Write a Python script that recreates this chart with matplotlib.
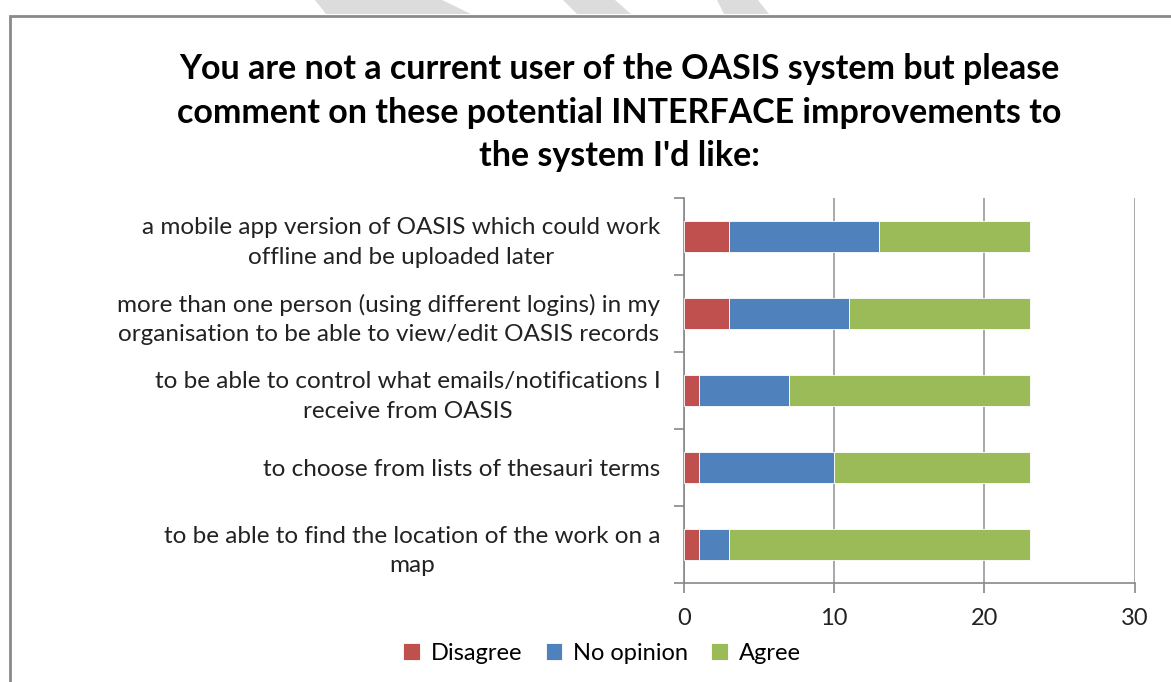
import matplotlib.pyplot as plt
import numpy as np
from matplotlib.patches import Rectangle, Polygon

# data
categories = [
    "a mobile app version of OASIS which could work\noffline and be uploaded later",
    "more than one person (using different logins) in my\norganisation to be able to view/edit OASIS records",
    "to be able to control what emails/notifications I\nreceive from OASIS",
    "to choose from lists of thesauri terms",
    "to be able to find the location of the work on a\nmap",
]
disagree = [3, 3, 1, 1, 1]
no_opinion = [10, 8, 6, 9, 2]
agree = [10, 12, 16, 13, 20]

series_names = ["Disagree", "No opinion", "Agree"]
colors = ["#C0504D", "#4F81BD", "#9BBB59"]
x_ticks = [0, 10, 20, 30]

plt.rcParams['font.family'] = ['Lato', 'DejaVu Sans']

W, H = 1171, 682
fig = plt.figure(figsize=(W / 100, H / 100), dpi=100)
ax = fig.add_axes([0.584, 0.145, 0.385, 0.565])

y = np.arange(len(categories))[::-1]
left = np.zeros(len(categories))
for vals, name, c in zip([disagree, no_opinion, agree], series_names, colors):
    ax.barh(y, vals, left=left, height=0.4, color=c, label=name,
            edgecolor='white', linewidth=0.6, zorder=3)
    left += np.array(vals)

ax.set_xlim(0, 30)
ax.set_ylim(-0.5, len(categories) - 0.5)
ax.set_xticks(x_ticks)
ax.set_xticklabels([str(t) for t in x_ticks], fontsize=17, color='#222222')
ax.grid(axis='x', color='#999999', linewidth=1.2, zorder=0)

# category labels sit between the tick marks, ticks at boundaries
ax.set_yticks(np.arange(-0.5, len(categories), 1.0))
ax.set_yticklabels([])
ax.set_yticks(y, minor=True)
ax.set_yticklabels(categories, minor=True, fontsize=17.5, color='#222222',
                   linespacing=1.5)
for t in ax.get_yticklabels(minor=True):
    t.set_multialignment('center')
ax.tick_params(axis='y', which='minor', length=0, pad=17)
ax.tick_params(axis='y', which='major', length=7, color='#888888', width=1.2)
ax.tick_params(axis='x', length=7, color='#888888', width=1.2, pad=11)

for s in ['top', 'right']:
    ax.spines[s].set_visible(False)
for s in ['left', 'bottom']:
    ax.spines[s].set_color('#888888')
    ax.spines[s].set_linewidth(1.2)

fig.text(0.529, 0.835,
         "You are not a current user of the OASIS system but please\n"
         "comment on these potential INTERFACE improvements to\n"
         "the system I'd like:",
         ha='center', va='center', fontsize=24.5, fontweight='bold',
         linespacing=1.45)

leg = fig.legend(loc='center', bbox_to_anchor=(0.514, 0.042), ncol=3,
                 frameon=False, fontsize=17,
                 handlelength=0.7, handleheight=0.7, handletextpad=0.45,
                 columnspacing=1.0, borderaxespad=0.0)

# faint page decoration above the border
for pts in [[(315, 0), (442, 0), (471, 14), (326, 14)],
            [(563, 0), (615, 0), (631, 14), (577, 14)],
            [(717, 0), (758, 0), (769, 14), (724, 14)]]:
    fig.patches.append(Polygon([(px / W, 1 - py / H) for px, py in pts],
                               closed=True, transform=fig.transFigure,
                               facecolor='#dcdcdc', edgecolor='none',
                               zorder=0))

# outer chart border
fig.patches.append(Rectangle((10 / W, -0.05), 1.2, 1 - 16 / H + 0.05,
                             transform=fig.transFigure, fill=False,
                             edgecolor='#8a8a8a', linewidth=2, zorder=1))

fig.savefig('out.png', dpi=100)
